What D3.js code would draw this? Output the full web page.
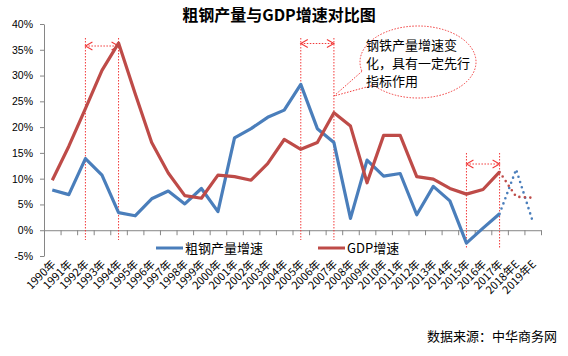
<!DOCTYPE html>
<html><head><meta charset="utf-8">
<script src="https://cdn.jsdelivr.net/npm/d3@7"></script>
<style>
html,body{margin:0;padding:0;background:#fff;}
svg{display:block;}
</style></head>
<body>
<svg id="c" width="568" height="356"></svg>
<script>
// ---- data ----
const years = ["1990年","1991年","1992年","1993年","1994年","1995年","1996年","1997年","1998年","1999年",
  "2000年","2001年","2002年","2003年","2004年","2005年","2006年","2007年","2008年","2009年",
  "2010年","2011年","2012年","2013年","2014年","2015年","2016年","2017年","2018年E","2019年E"];
const steelGrowth = [7.8,6.9,13.9,10.7,3.4,2.8,6.1,7.6,5.1,8.1,3.6,17.9,19.7,21.9,23.3,28.3,19.7,17.0,2.3,13.6,10.5,11.0,3.0,8.5,5.7,-2.5,0.4,3.2];
const gdpGrowth   = [9.7,16.3,23.6,31.0,36.3,26.5,17.0,11.1,6.7,6.2,10.7,10.4,9.7,12.9,17.6,15.7,17.0,22.8,20.2,9.2,18.4,18.4,10.4,9.9,8.1,7.0,7.9,11.3];
const forecastYears = ["2017年","2018年E","2019年E"];
const steelForecast = [3.2,11.8,1.7];
const gdpForecast   = [11.3,6.5,6.3];
const yTicks = [-5,0,5,10,15,20,25,30,35,40];
const seriesNames = ["粗钢产量增速","GDP增速"];
const title = "粗钢产量与GDP增速对比图";
const source = "数据来源：中华商务网";
const calloutLines = ["钢铁产量增速变","化，具有一定先行","指标作用"];
const markedPairs = [["1992年","1994年"],["2005年","2007年"],["2015年","2017年"]];

// ---- drawing ----
const svg = d3.select("#c");
const blue = "#4A7EBB", red = "#BE4B48", ann = "#f23a3a", axisCol = "#868686";
const cjk = "'Noto Sans CJK SC','Noto Sans',sans-serif";

const x = d3.scaleBand().domain(years).range([44, 541]);
const cx = d => x(d) + x.bandwidth()/2;
const y = d3.scaleLinear().domain([-5, 40]).range([256, 24]);

// title
svg.append("text").attr("x", 279).attr("y", 21).attr("text-anchor","middle")
  .attr("font-family", cjk).attr("font-weight","bold").attr("font-size",16).attr("fill","#000").text(title);

// y axis
const yAx = svg.append("g").attr("transform","translate(44,0)")
  .call(d3.axisLeft(y).tickValues(yTicks).tickSize(4).tickSizeOuter(0).tickPadding(7).tickFormat(d => d + "%"));
yAx.select(".domain").attr("stroke", axisCol);
yAx.selectAll(".tick line").attr("stroke", axisCol);
yAx.selectAll("text").attr("font-family","'Liberation Sans',Arial,sans-serif").attr("font-size",10.5).attr("fill","#000");

// x axis at 0 with boundary ticks
const xb = d3.scaleLinear().domain([0, years.length]).range(x.range());
const xAx = svg.append("g").attr("transform", `translate(0,${y(0)})`)
  .call(d3.axisBottom(xb).tickValues(d3.range(1, years.length+1)).tickSize(5).tickSizeOuter(0).tickFormat(""));
xAx.select(".domain").attr("stroke", axisCol);
xAx.selectAll(".tick line").attr("stroke", axisCol);

// x labels
svg.append("g").selectAll("text").data(years).join("text")
  .attr("transform", d => `translate(${cx(d)+4},265) rotate(-45)`)
  .attr("text-anchor","end").attr("font-family", cjk).attr("font-size",11).attr("fill","#000")
  .text(d => d);

// annotation verticals & arrows
const topY = [38, 38, 153], botY = [[240,240],[240,240],[248,249]], arrowY = [46, 43.5, 164];
markedPairs.forEach((p, i) => {
  p.forEach((d, j) => {
    svg.append("line").attr("x1", cx(d)).attr("x2", cx(d)).attr("y1", topY[i]).attr("y2", botY[i][j])
      .attr("stroke", ann).attr("stroke-width",1).attr("stroke-dasharray","1.5,1.5");
  });
  const x1 = cx(p[0]), x2 = cx(p[1]), ay = arrowY[i];
  svg.append("line").attr("x1", x1).attr("x2", x2).attr("y1", ay).attr("y2", ay)
    .attr("stroke", ann).attr("stroke-width",1).attr("stroke-dasharray","1.5,1.5");
  svg.append("path").attr("d", `M${x1+7},${ay-4}L${x1},${ay}L${x1+7},${ay+4}M${x2-7},${ay-4}L${x2},${ay}L${x2-7},${ay+4}`)
    .attr("fill","none").attr("stroke", ann).attr("stroke-width",1.1);
});

// lines
const line = d3.line().x(d => cx(d[0])).y(d => y(d[1]));
svg.append("path").datum(d3.zip(years, steelGrowth)).attr("d", line)
  .attr("fill","none").attr("stroke", blue).attr("stroke-width",3.2).attr("stroke-linejoin","round");
svg.append("path").datum(d3.zip(years, gdpGrowth)).attr("d", line)
  .attr("fill","none").attr("stroke", red).attr("stroke-width",3.2).attr("stroke-linejoin","round");
svg.append("path").datum(d3.zip(forecastYears, steelForecast)).attr("d", line)
  .attr("fill","none").attr("stroke", blue).attr("stroke-width",2.6).attr("stroke-linecap","round").attr("stroke-dasharray","0,5.5");
svg.append("path").datum(d3.zip(forecastYears, gdpForecast)).attr("d", line)
  .attr("fill","none").attr("stroke", red).attr("stroke-width",2.6).attr("stroke-linecap","round").attr("stroke-dasharray","0,5.5");

// legend
const lg = [[156, blue], [318, red]];
lg.forEach((l, i) => {
  svg.append("line").attr("x1", l[0]).attr("x2", l[0]+27).attr("y1", 248).attr("y2", 248)
    .attr("stroke", l[1]).attr("stroke-width", 3);
  svg.append("text").attr("x", l[0]+29).attr("y", 252.5).attr("font-family", cjk).attr("font-size",13)
    .attr("fill","#000").text(seriesNames[i]);
});

// callout
const ecx = 418, ecy = 62, erx = 58, ery = 36;
const tipX = cx("2007年"), tipY = 96;
const pt = a => [ecx + erx*Math.cos(a*Math.PI/180), ecy + ery*Math.sin(a*Math.PI/180)];
const A = pt(165), B = pt(140);
svg.append("path").attr("d", `M${A[0]},${A[1]}L${tipX},${tipY}L${B[0]},${B[1]}A${erx},${ery} 0 1 0 ${A[0]},${A[1]}Z`)
  .attr("fill","#fff").attr("stroke", ann).attr("stroke-width",1).attr("stroke-dasharray","1.5,1.5");
svg.append("g").selectAll("text").data(calloutLines).join("text")
  .attr("x", 366).attr("y", (d,i) => 50 + i*18).attr("font-family", cjk).attr("font-size",13).attr("fill","#000")
  .text(d => d);

// source
svg.append("text").attr("x", 557).attr("y", 341).attr("text-anchor","end").attr("font-family", cjk)
  .attr("font-size",13).attr("fill","#000").text(source);
</script>
</body></html>
